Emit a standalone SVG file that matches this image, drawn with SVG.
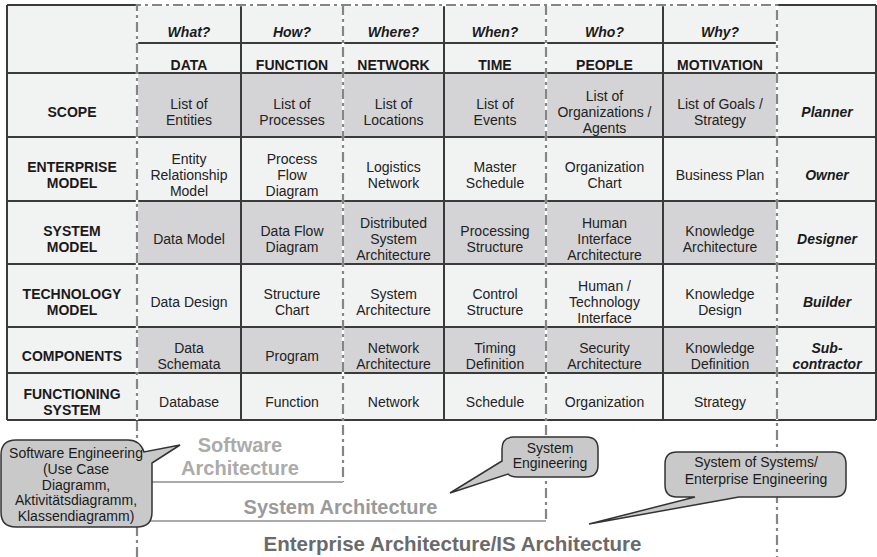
<svg xmlns="http://www.w3.org/2000/svg" width="877" height="557" viewBox="0 0 877 557">
<style>
text{font-family:"Liberation Sans",Arial,Helvetica,sans-serif;font-size:14px;fill:#222;text-anchor:middle}
.b{font-weight:bold;fill:#1a1a1a}
.bi{font-weight:bold;font-style:italic;fill:#1a1a1a}
.light{fill:#f1f2f2}
.dark{fill:#d4d4d6}
.grid{stroke:#3a3a3a;stroke-width:2;fill:none}
.under{stroke:#ffffff;stroke-width:2.4;fill:none}
.dash{stroke:#858585;stroke-width:2.2;fill:none;stroke-dasharray:10 4 3 4}
.base{stroke:#aaaaaa;stroke-width:2;fill:none}
.call{fill:#c9c9c9;stroke:#333;stroke-width:1.5}
.ct{fill:#1a1a1a}
.arch{font-weight:bold;font-size:20px}
</style>
<rect x="0" y="0" width="877" height="557" fill="#ffffff"/>

<g id="table-bg">
<rect class="light" x="7" y="5" width="869" height="415"/>
<rect class="dark" x="137" y="73" width="640" height="64"/>
<rect class="dark" x="137" y="201" width="640" height="63"/>
<rect class="dark" x="137" y="327" width="640" height="46"/>
</g>

<g id="grid">
<path class="grid" d="M7,5 H137 M777,5 H876 M137,43 H777 M7,73 H876 M7,137 H876 M7,201 H876 M7,264 H876 M7,327 H876 M7,373 H876 M7,420 H876"/>
<path class="grid" d="M7,5 V420 M241,5 V420 M444,5 V420 M663,5 V420 M876,5 V420"/>
</g>

<g id="header">
<text class="bi" x="189" y="37">What?</text>
<text class="bi" x="292" y="37">How?</text>
<text class="bi" x="393.5" y="37">Where?</text>
<text class="bi" x="495" y="37">When?</text>
<text class="bi" x="604.5" y="37">Who?</text>
<text class="bi" x="720" y="37">Why?</text>
<text class="b" x="189" y="70">DATA</text>
<text class="b" x="292" y="70">FUNCTION</text>
<text class="b" x="393.5" y="70">NETWORK</text>
<text class="b" x="495" y="70">TIME</text>
<text class="b" x="604.5" y="70">PEOPLE</text>
<text class="b" x="720" y="70">MOTIVATION</text>
</g>

<g id="row-scope">
<text class="b" x="72" y="117">SCOPE</text>
<text x="189" y="109">List of</text><text x="189" y="125">Entities</text>
<text x="292" y="109">List of</text><text x="292" y="125">Processes</text>
<text x="393.5" y="109">List of</text><text x="393.5" y="125">Locations</text>
<text x="495" y="109">List of</text><text x="495" y="125">Events</text>
<text x="604.5" y="101">List of</text><text x="604.5" y="117" textLength="94" lengthAdjust="spacing">Organizations /</text><text x="604.5" y="133">Agents</text>
<text x="720" y="109">List of Goals /</text><text x="720" y="125">Strategy</text>
<text class="bi" x="827" y="117">Planner</text>
</g>

<g id="row-enterprise">
<text class="b" x="72" y="172">ENTERPRISE</text><text class="b" x="72" y="188">MODEL</text>
<text x="189" y="164">Entity</text><text x="189" y="180">Relationship</text><text x="189" y="196">Model</text>
<text x="292" y="164">Process</text><text x="292" y="180">Flow</text><text x="292" y="196">Diagram</text>
<text x="393.5" y="172">Logistics</text><text x="393.5" y="188">Network</text>
<text x="495" y="172">Master</text><text x="495" y="188">Schedule</text>
<text x="604.5" y="172">Organization</text><text x="604.5" y="188">Chart</text>
<text x="720" y="180">Business Plan</text>
<text class="bi" x="827" y="180">Owner</text>
</g>

<g id="row-system">
<text class="b" x="72" y="235.5">SYSTEM</text><text class="b" x="72" y="251.5">MODEL</text>
<text x="189" y="243.5">Data Model</text>
<text x="292" y="235.5">Data Flow</text><text x="292" y="251.5">Diagram</text>
<text x="393.5" y="227.5">Distributed</text><text x="393.5" y="243.5">System</text><text x="393.5" y="259.5">Architecture</text>
<text x="495" y="235.5">Processing</text><text x="495" y="251.5">Structure</text>
<text x="604.5" y="227.5">Human</text><text x="604.5" y="243.5">Interface</text><text x="604.5" y="259.5">Architecture</text>
<text x="720" y="235.5">Knowledge</text><text x="720" y="251.5">Architecture</text>
<text class="bi" x="827" y="243.5">Designer</text>
</g>

<g id="row-technology">
<text class="b" x="72" y="298.5">TECHNOLOGY</text><text class="b" x="72" y="314.5">MODEL</text>
<text x="189" y="306.5">Data Design</text>
<text x="292" y="298.5">Structure</text><text x="292" y="314.5">Chart</text>
<text x="393.5" y="298.5">System</text><text x="393.5" y="314.5">Architecture</text>
<text x="495" y="298.5">Control</text><text x="495" y="314.5">Structure</text>
<text x="604.5" y="290.5">Human /</text><text x="604.5" y="306.5">Technology</text><text x="604.5" y="322.5">Interface</text>
<text x="720" y="298.5">Knowledge</text><text x="720" y="314.5">Design</text>
<text class="bi" x="827" y="306.5">Builder</text>
</g>

<g id="row-components">
<text class="b" x="72" y="361">COMPONENTS</text>
<text x="189" y="353">Data</text><text x="189" y="369">Schemata</text>
<text x="292" y="361">Program</text>
<text x="393.5" y="353">Network</text><text x="393.5" y="369">Architecture</text>
<text x="495" y="353">Timing</text><text x="495" y="369">Definition</text>
<text x="604.5" y="353">Security</text><text x="604.5" y="369">Architecture</text>
<text x="720" y="353">Knowledge</text><text x="720" y="369">Definition</text>
<text class="bi" x="827" y="353">Sub-</text><text class="bi" x="827" y="369">contractor</text>
</g>

<g id="row-functioning">
<text class="b" x="72" y="399">FUNCTIONING</text><text class="b" x="72" y="415">SYSTEM</text>
<text x="189" y="407">Database</text>
<text x="292" y="407">Function</text>
<text x="393.5" y="407">Network</text>
<text x="495" y="407">Schedule</text>
<text x="604.5" y="407">Organization</text>
<text x="720" y="407">Strategy</text>
</g>

<g id="connectors">
<path class="under" d="M137,5 V420 M343,5 V420 M546,5 V420 M777,5 V420 M137,5 H777"/>
<path class="dash" d="M137,557 V5 H777 V557"/>
<path class="dash" d="M343,5 V482"/>
<path class="dash" d="M546,5 V521"/>
<path class="base" d="M137,482 H343"/>
<path class="base" d="M137,521 H546"/>
</g>

<g id="arch-labels">
<text class="arch" x="240" y="452" style="fill:#ababab">Software</text>
<text class="arch" x="240" y="475" style="fill:#ababab">Architecture</text>
<text class="arch" x="340.5" y="514" style="fill:#9a9a9a">System Architecture</text>
<text class="arch" x="452.5" y="551" style="fill:#6a6a6a;font-size:20.5px">Enterprise Architecture/IS Architecture</text>
</g>

<g id="callout-software-engineering">
<path class="call" d="M16,440 H128 Q140,440 144,452 L180,445 L152,463 V512 Q152,527 137,527 H16 Q1,527 1,512 V455 Q1,440 16,440 Z"/>
<text class="ct" x="76" y="458">Software Engineering</text>
<text class="ct" x="76" y="473.5">(Use Case</text>
<text class="ct" x="76" y="489.5">Diagramm,</text>
<text class="ct" x="76" y="505">Aktivitätsdiagramm,</text>
<text class="ct" x="76" y="520.5">Klassendiagramm)</text>
</g>

<g id="callout-system-engineering">
<path class="call" d="M514,437 H586 Q598,437 598,449 V465 Q598,477 586,477 H517 Q511,477 508,474 L450,493 L502,461 V449 Q502,437 514,437 Z"/>
<text class="ct" x="550" y="453">System</text>
<text class="ct" x="550" y="468">Engineering</text>
</g>

<g id="callout-sos-engineering">
<path class="call" d="M677,452 H834 Q846,452 846,464 V485 Q846,497 834,497 H739 L589,524 L695,497 H677 Q665,497 665,485 V464 Q665,452 677,452 Z"/>
<text class="ct" x="756" y="467">System of Systems/</text>
<text class="ct" x="756" y="483.5">Enterprise Engineering</text>
</g>
</svg>
